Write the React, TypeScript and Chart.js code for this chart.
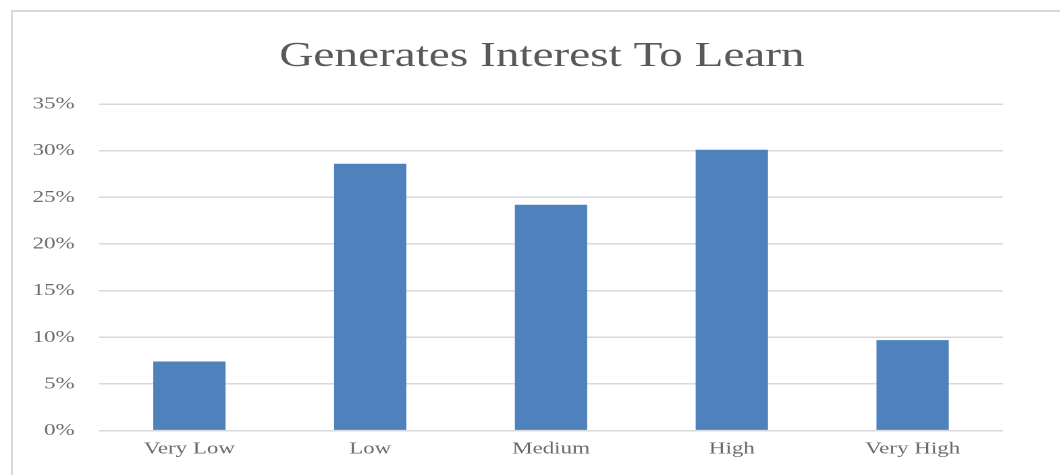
import React, { useEffect, useRef } from "react";
import { Chart, registerables } from "chart.js";

Chart.register(...registerables);

const titleText = "Generates Interest To Learn";
const categories = ["Very Low", "Low", "Medium", "High", "Very High"];
const values = [7.4, 28.6, 24.2, 30.1, 9.7];
const yMin = 0;
const yMax = 35;
const yStep = 5;

const SX = 1.35;
const W = 1060;
const H = 475;
const FONT = "'Liberation Serif', 'Times New Roman', serif";
const TITLE_CENTER = 542;

const titleShift = {
  id: "titleShift",
  afterLayout(chart: any) {
    const t = chart.titleBlock;
    if (t) {
      t.left = 0;
      t.right = (2 * TITLE_CENTER) / SX;
      t.width = t.right - t.left;
    }
  },
};

export default function App() {
  const canvasRef = useRef<HTMLCanvasElement | null>(null);

  useEffect(() => {
    if (!canvasRef.current) return;
    const chart = new Chart(canvasRef.current, {
      type: "bar",
      data: {
        labels: categories,
        datasets: [
          {
            data: values,
            backgroundColor: "#4f81bd",
            borderWidth: 0,
            categoryPercentage: 1,
            barPercentage: 0.4,
          },
        ],
      },
      options: {
        animation: false,
        responsive: true,
        maintainAspectRatio: false,
        devicePixelRatio: 2,
        layout: {
          padding: { left: 0, right: (W - 1003) / SX, top: 14, bottom: 8 },
        },
        plugins: {
          legend: { display: false },
          tooltip: { enabled: false },
          title: {
            display: true,
            text: titleText,
            color: "#595959",
            font: { family: FONT, size: 35, weight: "normal" },
            padding: { top: 22, bottom: 26 },
          },
        },
        scales: {
          x: {
            grid: { display: false, drawTicks: false },
            border: { display: false },
            ticks: {
              color: "#6b6b6b",
              padding: 8,
              font: { family: FONT, size: 17 },
            },
          },
          y: {
            min: yMin,
            max: yMax,
            grid: { color: "#d9d9d9", lineWidth: 1.5, drawTicks: false },
            border: { display: false },
            afterFit: (scale: any) => {
              scale.width = 99 / SX;
            },
            ticks: {
              stepSize: yStep,
              color: "#6b6b6b",
              padding: 18,
              font: { family: FONT, size: 17 },
              callback: (v: any) => `${v}%`,
            },
          },
        },
      },
      plugins: [titleShift],
    });
    return () => chart.destroy();
  }, []);

  return (
    <div
      style={{
        position: "absolute",
        left: 0,
        top: 0,
        width: W,
        height: H,
        overflow: "hidden",
        background: "#ffffff",
      }}
    >
      <div
        style={{
          position: "absolute",
          left: 11,
          top: 10,
          width: 1200,
          height: 700,
          border: "2px solid #d9d9d9",
        }}
      />
      <div
        style={{
          position: "absolute",
          left: 0,
          top: 0,
          width: W / SX,
          height: H,
          transform: `scaleX(${SX})`,
          transformOrigin: "0 0",
        }}
      >
        <canvas ref={canvasRef} />
      </div>
    </div>
  );
}
